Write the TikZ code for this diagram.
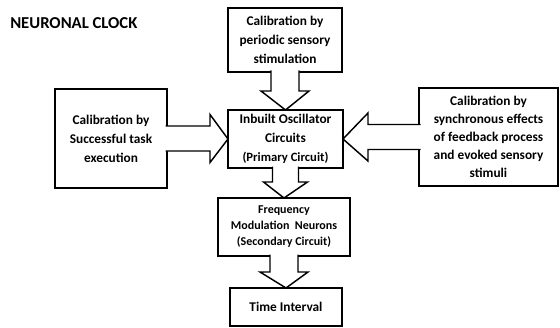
\documentclass[tikz,border=0pt]{standalone}
\usepackage{fontspec}
\setmainfont{Carlito}
\usepackage{tikz}
\usetikzlibrary{calc}

\tikzset{
  clockbox/.style={draw, line width=1.1pt, inner sep=0pt, outer sep=0pt, align=center,
    font=\fontsize{10}{14.2}\selectfont\bfseries},
  blockarr/.style={draw, fill=white, line width=1.1pt, line join=miter}
}

\begin{document}
\begin{tikzpicture}[x=0.75pt,y=0.75pt,yscale=-1,xscale=1]
    \useasboundingbox (0,0) rectangle (560,328);
    \node [anchor=west, inner sep=0pt, font=\fontsize{12.5}{14}\selectfont\bfseries] (title) at (10,23) {NEURONAL CLOCK};
    \node [clockbox, minimum width=85.5pt, minimum height=48pt] (top) at (285,40) {Calibration by\\periodic sensory\\stimulation};
    \node [clockbox, minimum width=86.25pt, minimum height=43.5pt] (mid) at (285.5,139) {Inbuilt Oscillator\\Circuits\\{\fontsize{9.5}{12}\selectfont(Primary Circuit)}};
    \node [clockbox, minimum width=84pt, minimum height=74.25pt] (left) at (111,138.5) {Calibration by\\Successful task\\execution};
    \node [clockbox, minimum width=104.25pt, minimum height=73.5pt, font=\fontsize{10}{13.5}\selectfont\bfseries] (right) at (488.5,137) {Calibration by\\synchronous effects\\of feedback process\\and evoked sensory\\stimuli};
    \node [clockbox, minimum width=99pt, minimum height=43.5pt, font=\fontsize{9}{12}\selectfont\bfseries] (freq) at (284,227) {Frequency\\Modulation~~Neurons\\(Secondary Circuit)};
    \node [clockbox, minimum width=84pt, minimum height=28.5pt] (time) at (286,307) {Time Interval};
    \draw [blockarr] ($(top.south)+(-14,-1.5)$) -- ++(0,20.5) -- ++(-10,0) -- (mid.north) -- ($(top.south)+(24,19)$) -- ++(-10,0) -- ++(0,-20.5);
    \draw [blockarr] ($(left.east)+(-1.5,-12.5)$) -- ++(44.5,0) -- ++(0,-11.5) -- (mid.west) -- ($(left.east)+(43,24)$) -- ++(0,-11.5) -- ++(-44.5,0);
    \draw [blockarr] ($(right.west)+(1.5,-12.5)$) -- ++(-52.5,0) -- ++(0,-11.5) -- (mid.east) -- ($(right.west)+(-51,24)$) -- ++(0,-11.5) -- ++(52.5,0);
    \draw [blockarr] ($(mid.south)+(-13,-1.5)$) -- ++(0,15.5) -- ++(-9,0) -- (freq.north) -- ($(mid.south)+(22,14)$) -- ++(-9,0) -- ++(0,-15.5);
    \draw [blockarr] ($(freq.south)+(-14,-1.5)$) -- ++(0,17.5) -- ++(-10,0) -- (time.north) -- ($(freq.south)+(24,16)$) -- ++(-10,0) -- ++(0,-17.5);
\end{tikzpicture}
\end{document}
